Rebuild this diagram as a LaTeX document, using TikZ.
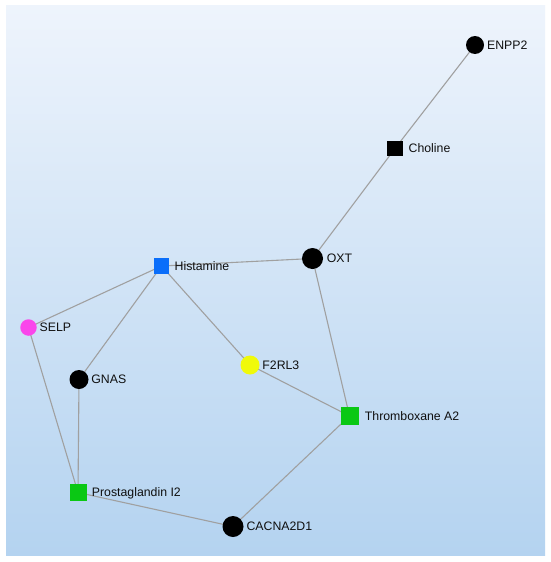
\documentclass[tikz,border=0pt]{standalone}
\usepackage{fontspec}
\setmainfont{Liberation Sans}
\pgfdeclarelayer{back}
\pgfdeclarelayer{edges}
\pgfsetlayers{back,edges,main}
\definecolor{bgtop}{RGB}{238,244,252}
\definecolor{bgbot}{RGB}{180,211,240}
\definecolor{edgegray}{RGB}{160,160,160}
\definecolor{nblue}{RGB}{10,110,250}
\definecolor{ngreen}{RGB}{10,200,20}
\definecolor{nmag}{RGB}{250,70,235}
\definecolor{nyel}{RGB}{240,250,10}
\definecolor{txt}{RGB}{15,15,15}
\tikzset{
  lbl/.style={font=\fontsize{12.3}{12.3}\selectfont, text=txt, inner sep=0pt, text height=8.8pt, text depth=0pt},
  circ/.style={circle, fill=#1, draw=none, inner sep=0pt},
  sq/.style={rectangle, fill=#1, draw=none, inner sep=0pt},
  edge/.style={draw=edgegray, line width=1.1pt}
}
\begin{document}
\begin{tikzpicture}[x=1pt,y=-1pt]
\useasboundingbox (0,0) rectangle (550,562);
\begin{pgfonlayer}{back}
  \fill[white] (0,0) rectangle (550,562);
  \shade[top color=bgtop, bottom color=bgbot] (6,5) rectangle (545,555);
\end{pgfonlayer}
% nodes
\node[circ=black, minimum size=18pt, label={[lbl, label distance=2.7pt]right:ENPP2}] (enpp2) at (475,45) {};
\node[sq=black, minimum size=15.5pt, label={[lbl, label distance=5.5pt]right:Choline}] (choline) at (395,148.5) {};
\node[circ=black, minimum size=21pt, label={[lbl, label distance=3.5pt]right:OXT}] (oxt) at (312.5,258.5) {};
\node[sq=nblue, minimum size=15.5pt, label={[lbl, label distance=5pt]right:Histamine}] (hist) at (161.5,266) {};
\node[circ=nmag, minimum size=16.5pt, label={[lbl, label distance=2.5pt]right:SELP}] (selp) at (28.5,327.5) {};
\node[circ=black, minimum size=19pt, label={[lbl, label distance=2.5pt]right:GNAS}] (gnas) at (79,379.5) {};
\node[circ=nyel, minimum size=19pt, label={[lbl, label distance=2.5pt]right:F2RL3}] (f2rl3) at (250,365) {};
\node[sq=ngreen, minimum size=18pt, label={[lbl, label distance=6pt]right:Thromboxane A2}] (thrx) at (349.5,416) {};
\node[sq=ngreen, minimum size=17pt, label={[lbl, label distance=5pt]right:Prostaglandin I2}] (prost) at (78,492.5) {};
\node[circ=black, minimum size=21pt, label={[lbl, label distance=2.7pt]right:CACNA2D1}] (cacna) at (233,526.5) {};
% edges
\begin{pgfonlayer}{edges}
  \draw[edge] (enpp2.center) -- (choline.center);
  \draw[edge] (choline.center) -- (oxt.center);
  \draw[edge] (oxt.center) -- (hist.center);
  \draw[edge] (oxt.center) -- (thrx.center);
  \draw[edge] (hist.center) -- (selp.center);
  \draw[edge] (hist.center) -- (gnas.center);
  \draw[edge] (hist.center) -- (f2rl3.center);
  \draw[edge] (f2rl3.center) -- (thrx.center);
  \draw[edge] (thrx.center) -- (cacna.center);
  \draw[edge] (cacna.center) -- (prost.center);
  \draw[edge] (prost.center) -- (gnas.center);
  \draw[edge] (prost.center) -- (selp.center);
\end{pgfonlayer}
\end{tikzpicture}
\end{document}
